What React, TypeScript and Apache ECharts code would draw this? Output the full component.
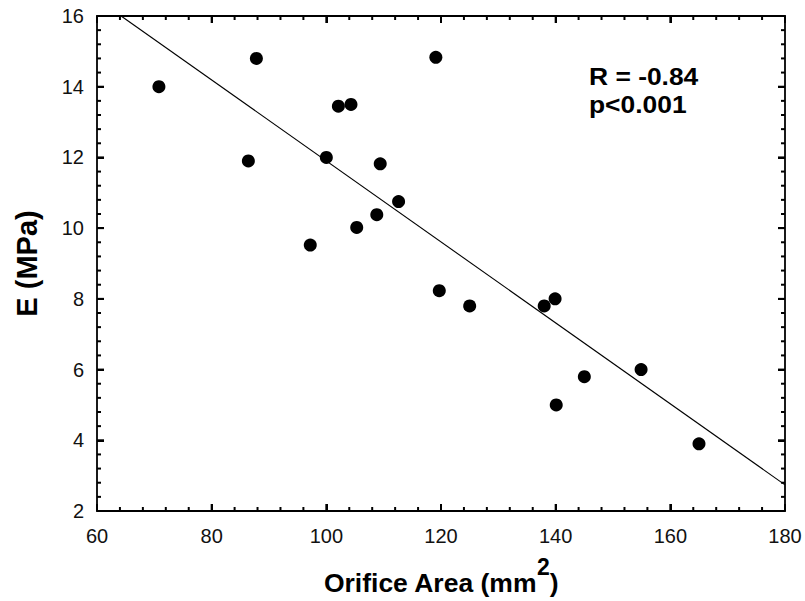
import React, { useEffect, useRef } from "react";
import * as echarts from "echarts";

const orificeArea: number[] = [70.8, 87.8, 86.4, 100.0, 102.1, 104.3, 109.4, 112.6, 108.8, 105.3, 97.2, 119.1, 119.7, 125.0, 138.0, 139.9, 145.0, 140.1, 154.9, 165.0];
const modulusE: number[] = [14.0, 14.8, 11.9, 12.0, 13.45, 13.5, 11.82, 10.75, 10.38, 10.02, 9.52, 14.83, 8.23, 7.8, 7.8, 8.0, 5.8, 5.0, 6.0, 3.9];
const fitX: number[] = [64.2, 180];
const fitY: number[] = [16, 2.74];
const statsLines: string[] = ["R = -0.84", "p<0.001"];

const xMajorTicks: number[] = [60, 80, 100, 120, 140, 160, 180];
const xMinorTicks: number[] = [64, 68, 72, 76, 84, 88, 92, 96, 104, 108, 112, 116, 124, 128, 132, 136, 144, 148, 152, 156, 164, 168, 172, 176];
const yMajorTicks: number[] = [2, 4, 6, 8, 10, 12, 14, 16];
const yMinorTicks: number[] = [2.4, 2.8, 3.2, 3.6, 4.4, 4.8, 5.2, 5.6, 6.4, 6.8, 7.2, 7.6, 8.4, 8.8, 9.2, 9.6, 10.4, 10.8, 11.2, 11.6, 12.4, 12.8, 13.2, 13.6, 14.4, 14.8, 15.2, 15.6];

const X_MIN = 60;
const X_MAX = 180;
const Y_MIN = 2;
const Y_MAX = 16;

const FONT = "'Liberation Sans', Arial, sans-serif";

function tickSeries(values: number[], dir: "x" | "y", len: number) {
  return {
    type: "custom",
    xAxisIndex: 0,
    yAxisIndex: 0,
    silent: true,
    z: 5,
    clip: false,
    data: values.map((v) => (dir === "x" ? [v, Y_MIN] : [X_MIN, v])),
    renderItem: (_params: any, api: any) => {
      const style = { stroke: "#000", lineWidth: 2, fill: "none" };
      if (dir === "x") {
        const v = api.value(0);
        const pb = api.coord([v, Y_MIN]);
        const pt = api.coord([v, Y_MAX]);
        return {
          type: "group",
          children: [
            { type: "line", shape: { x1: pb[0], y1: pb[1], x2: pb[0], y2: pb[1] - len }, style },
            { type: "line", shape: { x1: pt[0], y1: pt[1], x2: pt[0], y2: pt[1] + len }, style },
          ],
        };
      }
      const v = api.value(1);
      const pl = api.coord([X_MIN, v]);
      const pr = api.coord([X_MAX, v]);
      return {
        type: "group",
        children: [
          { type: "line", shape: { x1: pl[0], y1: pl[1], x2: pl[0] + len, y2: pl[1] }, style },
          { type: "line", shape: { x1: pr[0], y1: pr[1], x2: pr[0] - len, y2: pr[1] }, style },
        ],
      };
    },
  };
}

export default function App() {
  const ref = useRef<HTMLDivElement>(null);
  useEffect(() => {
    if (!ref.current) return;
    const chart = echarts.init(ref.current, null, { renderer: "svg" });
    const lineStyle = { color: "#000", width: 1.8 };
    const tick = { show: true, inside: true, length: 7, lineStyle: { color: "#000", width: 2 } };
    const baseX = {
      type: "value" as const,
      min: X_MIN,
      max: X_MAX,
      interval: 20,
      splitLine: { show: false },
      axisLine: { show: true, onZero: false, lineStyle },
      axisTick: tick,
    };
    const baseY = {
      type: "value" as const,
      min: Y_MIN,
      max: Y_MAX,
      interval: 2,
      splitLine: { show: false },
      axisLine: { show: true, onZero: false, lineStyle },
      axisTick: tick,
    };
    chart.setOption({
      animation: false,
      backgroundColor: "#fff",
      textStyle: { fontFamily: FONT },
      grid: { left: 97, right: 20, top: 16, bottom: 90, containLabel: false, outerBoundsMode: "none" },
      xAxis: [
        {
          ...baseX,
          position: "bottom",
          name: "Orifice Area (mm{sup|2})",
          nameLocation: "middle",
          nameGap: 44,
          nameTextStyle: {
            fontFamily: FONT,
            fontSize: 26.5,
            fontWeight: "bold",
            color: "#000",
            rich: {
              sup: { fontFamily: FONT, fontSize: 23, fontWeight: "bold", color: "#000", padding: [0, 0, 32, 0] },
            },
          },
          axisLabel: { show: true, fontFamily: FONT, fontSize: 20, color: "#111", margin: 15 },
        },
        { ...baseX, position: "top", axisLabel: { show: false } },
      ],
      yAxis: [
        {
          ...baseY,
          position: "left",
          name: "E (MPa)",
          nameLocation: "middle",
          nameGap: 56,
          nameTextStyle: { fontFamily: FONT, fontSize: 29, fontWeight: "bold", color: "#000" },
          axisLabel: { show: true, fontFamily: FONT, fontSize: 20, color: "#111", margin: 13 },
        },
        { ...baseY, position: "right", axisLabel: { show: false } },
      ],
      graphic: [
        {
          type: "text",
          left: 589,
          top: 62,
          scaleX: 1.1,
          style: {
            text: statsLines.join("\n"),
            fontFamily: FONT,
            fontSize: 24,
            fontWeight: "bold",
            lineHeight: 28,
            fill: "#000",
          },
        },
      ],
      series: [
        tickSeries(xMajorTicks, "x", 7),
        tickSeries(xMinorTicks, "x", 4),
        tickSeries(yMajorTicks, "y", 7),
        tickSeries(yMinorTicks, "y", 4),
        {
          type: "line",
          xAxisIndex: 0,
          yAxisIndex: 0,
          data: fitX.map((x, i) => [x, fitY[i]]),
          symbol: "none",
          lineStyle: { color: "#000", width: 1.1 },
          clip: true,
          z: 2,
        },
        {
          type: "scatter",
          xAxisIndex: 0,
          yAxisIndex: 0,
          data: orificeArea.map((x, i) => [x, modulusE[i]]),
          symbol: "circle",
          symbolSize: 13,
          itemStyle: { color: "#000", opacity: 1 },
          z: 3,
        },
      ],
    });
    return () => chart.dispose();
  }, []);
  return <div ref={ref} style={{ position: "absolute", left: 0, top: 0, width: 805, height: 601 }} />;
}
